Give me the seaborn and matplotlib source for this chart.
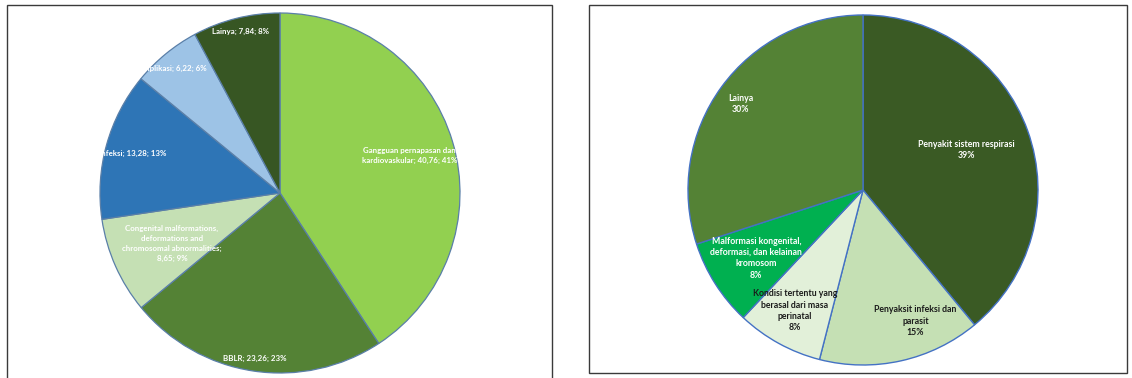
import matplotlib
matplotlib.use("Agg")
import matplotlib.pyplot as plt
import seaborn as sns
from matplotlib.patches import Rectangle

# Left chart: causes of death (value, share)
left_names = ["Gangguan pernapasan dan\nkardiovaskular", "BBLR",
              "Congenital malformations,\ndeformations and\nchromosomal abnormalities",
              "Infeksi", "Komplikasi", "Lainya"]
left_values = [40.76, 23.26, 8.65, 13.28, 6.22, 7.84]
left_colors = ["#92D050", "#548235", "#C5E0B4", "#2E75B6", "#9DC3E6", "#375623"]

# Right chart: percentages only
right_names = ["Penyakit sistem respirasi", "Penyaksit infeksi dan\nparasit",
               "Kondisi tertentu yang\nberasal dari masa\nperinatal",
               "Malformasi kongenital,\ndeformasi, dan kelainan\nkromosom", "Lainya"]
right_values = [39, 15, 8, 8, 30]
right_colors = ["#3A5A24", "#C5E0B4", "#E2F0D9", "#00B050", "#548235"]
right_text = ["white", "#1a1a1a", "#1a1a1a", "white", "white"]

# label spots in pie-radius units (as placed in the original)
left_label_xy = [(0.72, 0.21), (-0.14, -0.92), (-0.60, -0.28),
                 (-0.82, 0.22), (-0.61, 0.69), (-0.22, 0.90)]
right_label_xy = [(0.59, 0.23), (0.30, -0.75), (-0.39, -0.69),
                  (-0.61, -0.39), (-0.70, 0.49)]

sns.set_theme(style="white")
plt.rcParams["font.family"] = ["Lato", "DejaVu Sans"]

fig = plt.figure(figsize=(11.32, 3.78), dpi=100)

# panel frames
fig.patches.append(Rectangle((7 / 1132, -0.05), 545 / 1132, 1.05 - 5 / 378,
                             transform=fig.transFigure, fill=False,
                             edgecolor="#3a3a3a", linewidth=1.0))
fig.patches.append(Rectangle((589 / 1132, 5 / 378), 538 / 1132, 368 / 378,
                             transform=fig.transFigure, fill=False,
                             edgecolor="#3a3a3a", linewidth=1.0))

ax1 = fig.add_axes([100 / 1132, 5 / 378, 360 / 1132, 360 / 378])
ax1.pie(left_values, colors=left_colors, startangle=90, counterclock=False,
        wedgeprops=dict(edgecolor="#5A7FA8", linewidth=0.9))
ax1.set_xlim(-1, 1)
ax1.set_ylim(-1, 1)
total = sum(left_values)
for name, v, (x, y) in zip(left_names, left_values, left_label_xy):
    pct = round(v / total * 100)
    sep = ";\n" if name.startswith("Congenital") else "; "
    lab = f"{name}{sep}{str(v).replace('.', ',')}; {pct}%"
    ax1.text(x, y, lab, ha="center", va="center", color="white",
             fontsize=5.7, fontweight="bold", linespacing=1.45)

ax2 = fig.add_axes([688 / 1132, 13 / 378, 350 / 1132, 350 / 378])
ax2.pie(right_values, colors=right_colors, startangle=90, counterclock=False,
        wedgeprops=dict(edgecolor="#4472C4", linewidth=1.0))
ax2.set_xlim(-1, 1)
ax2.set_ylim(-1, 1)
for name, v, c, (x, y) in zip(right_names, right_values, right_text, right_label_xy):
    ax2.text(x, y, f"{name}\n{v}%", ha="center", va="center", color=c,
             fontsize=6.3, fontweight="bold", linespacing=1.35)

fig.savefig("out.png", dpi=100)
